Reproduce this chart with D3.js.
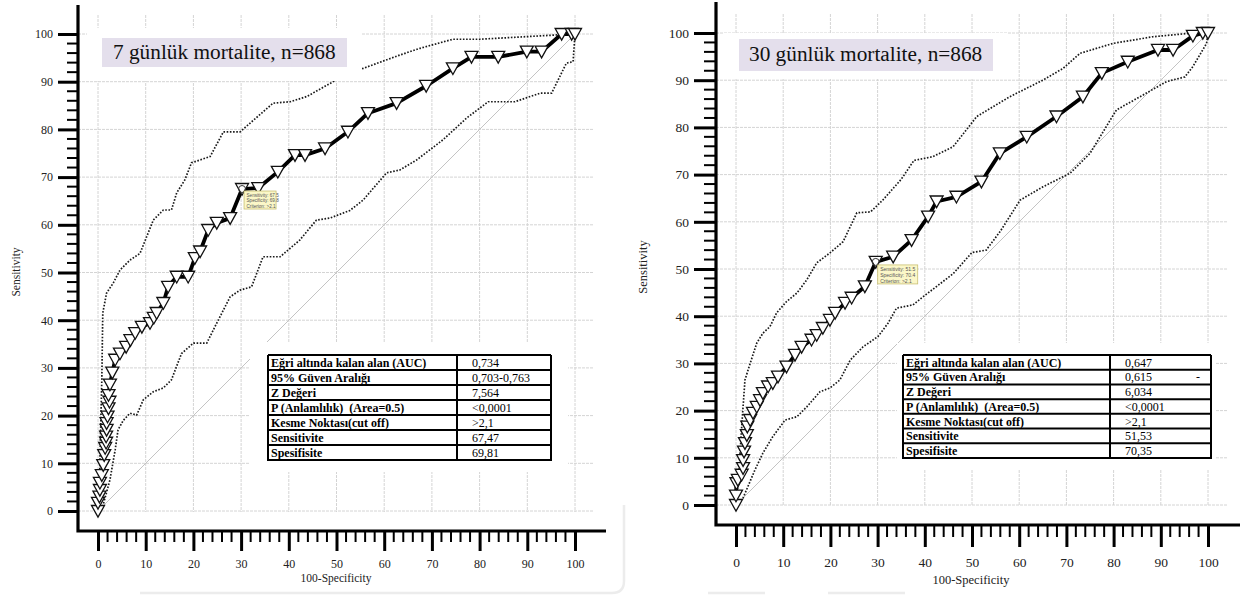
<!DOCTYPE html>
<html>
<head>
<meta charset="utf-8">
<script src="https://cdn.jsdelivr.net/npm/d3@7"></script>
<style>
  body { margin: 0; background: #fff; }
  svg { display: block; font-family: "Liberation Serif", "Times New Roman", serif; }
</style>
</head>
<body>
<svg id="chart" width="1252" height="595"></svg>
<script>
// ---- 7-day mortality ROC: [100-Specificity, Sensitivity] ----
const roc7 = [[0,0],[0,1.7],[0.3,3],[0.4,4.4],[0.4,5.9],[0.8,7.5],[1.1,9.6],[1.3,11.7],[1.5,13.2],[1.7,14.3],
  [1.7,15.6],[1.8,17],[1.8,18.4],[2,19.8],[2.2,21.5],[2.4,22.9],[2.2,24.3],[2.5,26.5],[3,29],[3.6,31.7],
  [4.6,33],[5.9,34.4],[6.8,35.8],[7.8,37.3],[9.2,38.6],[10.9,39.4],[11.7,40.5],[12.3,41.5],[13.7,43.6],
  [14.7,47],[16.5,49.1],[18.9,49.1],[20.3,53],[21.4,54.4],[23.1,58.9],[24.9,60.4],[27.7,61.4],[30.2,67.5],
  [33.6,67.7],[37.7,71.1],[41.3,74.6],[43.4,74.6],[47.6,76],[52.4,79.5],[56.6,83.4],[62.6,85.5],[68.8,89.1],
  [74.4,92.8],[78.3,95.2],[83.9,95.2],[89.9,96.3],[93,96.3],[97.2,100],[99.3,100],[100,100]];
const upper7 = [[0,0],[0.3,5],[0.5,15],[0.8,27.5],[1,41.5],[1.8,45.7],[3.2,47.8],[4.6,50.5],[6.7,52.6],[8.8,54],
  [10.2,57.5],[11.6,61],[13.7,63.1],[15.4,63.1],[16.5,66.7],[18.2,69.4],[19.6,73],[23.5,74.3],[26.3,79.5],
  [29.8,79.5],[36.7,85.5],[40.3,85.8],[43.8,86.9],[50,90.4],[55.6,92.8],[63.3,95.6],[67.5,97],[74.4,98.9],
  [80,98.9],[96.2,99.8],[100,100]];
const lower7 = [[0,0],[1,1],[2.5,6.5],[3.6,12.8],[4.2,17],[5.3,19],[6.7,20.5],[8.1,20.1],[9.5,23.3],[11.6,25],
  [13.7,25.8],[15.4,27.5],[17.5,33],[20,35.2],[22.8,35.2],[24.9,39.4],[27.7,44.9],[29.8,46.3],[32.2,47],
  [34.6,53.3],[38.2,53.3],[42.3,56.8],[45.8,61],[48.6,61.4],[52.8,63],[55.6,65.2],[60.5,70.9],[63.3,71.5],
  [66.8,73.6],[72.3,77.8],[77.3,82.4],[81.8,85.8],[87.4,85.8],[92.7,87.6],[95.1,87.6],[98.2,93.9],[99.6,94.2],[100,100]];
const cut7 = [30.2, 67.5];
const tip7 = ["Sensitivity: 67.5", "Specificity: 69.8", "Criterion: >2.1"];
const values7 = ["0,734", "0,703-0,763", "7,564", "<0,0001", ">2,1", "67,47", "69,81"];

// ---- 30-day mortality ROC ----
const roc30 = [[0,0],[0,2],[0.1,4.6],[0.4,5.3],[1.2,6.4],[1.5,7.8],[1.5,9.5],[1.7,11.3],[1.9,13.1],[2.3,14.8],
  [2.4,16.6],[3,18],[3.6,19.5],[4.4,20.8],[5.1,22.2],[5.7,23.7],[6.8,25.1],[7.8,25.8],[8.9,27.2],[10.7,29.3],
  [12.5,31.8],[13.9,33.5],[16,35],[17.1,36],[18.4,37.5],[19.9,39.2],[21,40.7],[23.1,42.8],[24.5,43.9],
  [27.3,46.3],[29.6,51.5],[33.3,52.6],[37.2,56.1],[40.7,61.1],[42.5,64.3],[46.7,65.3],[52,68.5],[55.9,74.5],
  [61.6,78],[67.9,82.3],[73.5,86.5],[77.5,91.5],[83,93.9],[89.4,96.4],[92.6,96.4],[96.8,99.4],[98.9,100],[100,100]];
const upper30 = [[0,0],[0.3,3],[0.8,10],[1.3,18],[1.9,26.5],[3,30],[4.4,34.3],[5.7,36.4],[7.2,37.8],[8.6,40.7],
  [10.7,43.1],[12.9,44.9],[15,47.7],[17.1,51.3],[19.9,53.4],[22.7,55.8],[25.6,61.9],[28.5,62.1],[31.1,64.6],
  [35,69],[37.7,73],[41.7,73.8],[46,75.9],[51,82.3],[58,86.5],[65,90],[69.3,92.5],[72.9,95.7],[79.9,97.8],
  [88.3,99.2],[96.8,100],[100,100]];
const lower30 = [[0,0],[1.5,1.5],[4,7.4],[5.7,11],[7.8,14.5],[10.4,18],[12.9,18.7],[15,20.8],[17.8,24],[19.9,24.8],
  [22,26.5],[24.2,30.7],[26.9,33.5],[30.1,35.7],[32.2,38.5],[34,41.7],[37.5,42.4],[39.6,44.1],[42.5,46.3],
  [46,49],[50,53.5],[53,54],[56,58],[60.2,64.6],[65,67.4],[70.8,70.3],[75,74.5],[80.6,83.7],[85.6,86.5],
  [91.2,89.7],[95.1,90.7],[96.8,92.9],[99.7,97.8],[100,100]];
const cut30 = [29.6, 51.5];
const tip30 = ["Sensitivity: 51.5", "Specificity: 70.4", "Criterion: >2.1"];
const values30 = ["0,647", "0,615", "6,034", "<0,0001", ">2,1", "51,53", "70,35"];

// ---- shared labels ----
const tableLabels = ["Eğri altında kalan alan (AUC)", "95% Güven Aralığı", "Z Değeri",
  "P (Anlamlılık)  (Area=0.5)", "Kesme Noktası(cut off)", "Sensitivite", "Spesifisite"];
const majorTicks = d3.range(0, 101, 10);
const minorTicks = d3.range(0, 101, 2).filter(v => v % 10 !== 0);

const svg = d3.select("#chart");

// faint page frame edges along the bottom
svg.append("path").attr("d", "M140,593H612Q624,593 624,581V505")
  .attr("fill", "none").attr("stroke", "#ececec").attr("stroke-width", 2.5);
svg.append("path").attr("d", "M708,593H765M828,593H905")
  .attr("fill", "none").attr("stroke", "#ececec").attr("stroke-width", 2.5);

function drawPanel(p) {
  const x = d3.scaleLinear().domain([0, 100]).range([p.x0, p.x100]);
  const y = d3.scaleLinear().domain([0, 100]).range([p.y0, p.y100]);
  const g = svg.append("g");

  // grid
  const grid = g.append("g").attr("stroke", "#d4d4d4").attr("stroke-width", 1).attr("stroke-dasharray", "3,1");
  grid.selectAll(".gv").data(majorTicks).join("line")
    .attr("x1", d => x(d)).attr("x2", d => x(d))
    .attr("y1", p.gridTop).attr("y2", y(0) + 1);
  grid.selectAll(".gh").data(majorTicks).join("line")
    .attr("y1", d => y(d)).attr("y2", d => y(d))
    .attr("x1", p.axisX).attr("x2", p.gridRight);

  // reference diagonal
  g.append("line")
    .attr("x1", x(0)).attr("y1", y(0)).attr("x2", x(100)).attr("y2", y(100))
    .attr("stroke", "#c4c4c4").attr("stroke-width", 1);

  const line = d3.line().x(d => x(d[0])).y(d => y(d[1]));

  // confidence bounds
  [p.upper, p.lower].forEach(band => {
    g.append("path").attr("d", line(band))
      .attr("fill", "none").attr("stroke", "#1a1a1a")
      .attr("stroke-width", 1.7).attr("stroke-dasharray", "1.6,1.6");
  });

  // ROC curve
  g.append("path").attr("d", line(p.roc))
    .attr("fill", "none").attr("stroke", "#000")
    .attr("stroke-width", 3.8).attr("stroke-linejoin", "round");

  // markers (down-pointing triangles)
  const tri = `M${-p.mk},${-p.mk * 0.85}L${p.mk},${-p.mk * 0.85}L0,${p.mk * 0.95}Z`;
  g.append("g").selectAll("path").data(p.roc).join("path")
    .attr("d", tri)
    .attr("transform", d => `translate(${x(d[0])},${y(d[1])})`)
    .attr("fill", "#fff").attr("stroke", "#111").attr("stroke-width", 1.3);

  // optimal cut-off point
  g.append("circle").attr("cx", x(p.cut[0])).attr("cy", y(p.cut[1])).attr("r", 3.5)
    .attr("fill", "none").attr("stroke", "#333").attr("stroke-width", 1);
  const tip = g.append("g").attr("transform", `translate(${x(p.cut[0]) + p.tipDx},${y(p.cut[1]) + p.tipDy})`);
  tip.append("rect").attr("width", p.tipW).attr("height", p.tipH)
    .attr("fill", "#fbf7c8").attr("stroke", "#c9bf73").attr("stroke-width", 0.8);
  tip.selectAll("text").data(p.tip).join("text")
    .attr("x", 2.5).attr("y", (d, i) => p.tipFs + 1 + i * (p.tipFs + 1))
    .attr("font-family", "Liberation Sans, Arial, sans-serif")
    .attr("font-size", p.tipFs).attr("fill", "#555").text(d => d);

  // title box
  g.append("rect").attr("x", p.titleWhite[0]).attr("y", p.titleWhite[1])
    .attr("width", p.titleWhite[2]).attr("height", p.titleWhite[3]).attr("fill", "#fff");
  g.append("rect").attr("x", p.titleBox[0]).attr("y", p.titleBox[1])
    .attr("width", p.titleBox[2]).attr("height", p.titleBox[3]).attr("fill", "#e4dfec");
  g.append("text").attr("x", p.titleBox[0] + p.titlePad).attr("y", p.titleBox[1] + p.titleBase)
    .attr("font-size", p.titleFs).attr("fill", "#111").text(p.title);

  // statistics table
  g.append("rect").attr("x", p.tableWhite[0]).attr("y", p.tableWhite[1])
    .attr("width", p.tableWhite[2]).attr("height", p.tableWhite[3]).attr("fill", "#fff");
  const t = p.table;
  const rowH = (t.bottom - t.top) / tableLabels.length;
  const tg = g.append("g");
  tg.selectAll(".lab").data(tableLabels).join("text")
    .attr("x", t.left + 3).attr("y", (d, i) => t.top + (i + 1) * rowH - 3)
    .attr("font-size", t.fs).attr("font-weight", "bold").attr("fill", "#000")
    .attr("xml:space", "preserve").style("white-space", "pre").text(d => d);
  tg.selectAll(".val").data(p.values).join("text")
    .attr("x", t.mid + 15).attr("y", (d, i) => t.top + (i + 1) * rowH - 3)
    .attr("font-size", t.fs).attr("fill", "#000").text(d => d);
  if (p.dash) {
    tg.append("text").attr("x", p.dash).attr("y", t.top + 2 * rowH - 3)
      .attr("font-size", t.fs).attr("fill", "#000").text("-");
  }
  const borders = tg.append("g").attr("stroke", "#000").attr("stroke-width", 2);
  d3.range(0, tableLabels.length + 1).forEach(i => {
    borders.append("line").attr("x1", t.left).attr("x2", t.right)
      .attr("y1", t.top + i * rowH).attr("y2", t.top + i * rowH);
  });
  [t.left, t.mid, t.right].forEach(xx => {
    borders.append("line").attr("x1", xx).attr("x2", xx).attr("y1", t.top).attr("y2", t.bottom + 1);
  });

  // y axis
  const yAxis = g.append("g").attr("transform", `translate(${p.axisX},0)`);
  yAxis.call(d3.axisLeft(y).tickValues(majorTicks).tickSize(p.major).tickPadding(p.yPad).tickSizeOuter(0));
  yAxis.attr("font-family", "Liberation Serif, serif").attr("font-size", p.tickFs);
  yAxis.select(".domain").remove();
  yAxis.selectAll(".tick line").attr("stroke", "#000").attr("stroke-width", 3);
  yAxis.selectAll(".tick text").attr("fill", "#222");
  yAxis.selectAll(".minor").data(minorTicks).join("line").attr("class", "minor")
    .attr("x1", -p.minor).attr("x2", 0).attr("y1", d => y(d)).attr("y2", d => y(d))
    .attr("stroke", "#000").attr("stroke-width", 2);

  // x axis
  const xAxis = g.append("g").attr("transform", `translate(0,${p.axisY})`);
  xAxis.call(d3.axisBottom(x).tickValues(majorTicks).tickSize(p.major).tickPadding(p.xPad).tickSizeOuter(0));
  xAxis.attr("font-family", "Liberation Serif, serif").attr("font-size", p.tickFs);
  xAxis.select(".domain").remove();
  xAxis.selectAll(".tick line").attr("stroke", "#000").attr("stroke-width", 3);
  xAxis.selectAll(".tick text").attr("fill", "#222");
  xAxis.selectAll(".minor").data(minorTicks).join("line").attr("class", "minor")
    .attr("y1", 0).attr("y2", p.minor).attr("x1", d => x(d)).attr("x2", d => x(d))
    .attr("stroke", "#000").attr("stroke-width", 2);

  // axis lines
  g.append("path")
    .attr("d", `M${p.axisX},${p.axisTop}V${p.axisY}H${p.axisRight}`)
    .attr("fill", "none").attr("stroke", "#000").attr("stroke-width", 3.2);

  // axis titles
  g.append("text").attr("transform", `translate(${p.yTitle[0]},${p.yTitle[1]}) rotate(-90)`)
    .attr("text-anchor", "middle").attr("font-size", p.axisFs).attr("fill", "#222").text("Sensitivity");
  g.append("text").attr("x", p.xTitle[0]).attr("y", p.xTitle[1])
    .attr("text-anchor", "middle").attr("font-size", p.axisFs).attr("fill", "#222").text("100-Specificity");
}

drawPanel({
  x0: 98, x100: 575, y0: 511, y100: 34,
  axisX: 78, axisY: 531, axisTop: 5, axisRight: 606, gridTop: 15, gridRight: 593,
  major: 20, minor: 11, yPad: 5, xPad: 8, tickFs: 12, axisFs: 11.5,
  yTitle: [20, 272], xTitle: [336, 582],
  roc: roc7, upper: upper7, lower: lower7, cut: cut7, mk: 6.5,
  tip: tip7, tipDx: 2, tipDy: 2, tipW: 32, tipH: 18, tipFs: 4.6,
  title: "7 günlük mortalite, n=868", titleFs: 21.3, titlePad: 11, titleBase: 21,
  titleWhite: [87, 28, 275, 53], titleBox: [102, 38, 245, 29],
  tableWhite: [250, 342, 318, 130],
  table: { left: 268, mid: 457, right: 551, top: 355, bottom: 460, fs: 12 },
  values: values7
});

drawPanel({
  x0: 736, x100: 1208, y0: 505, y100: 33,
  axisX: 716, axisY: 525, axisTop: 2, axisRight: 1240, gridTop: 14, gridRight: 1228,
  major: 22, minor: 12, yPad: 5, xPad: 10, tickFs: 13.5, axisFs: 12.5,
  yTitle: [647, 267], xTitle: [971, 584],
  roc: roc30, upper: upper30, lower: lower30, cut: cut30, mk: 6.5,
  tip: tip30, tipDx: 2, tipDy: 3, tipW: 40, tipH: 19, tipFs: 5,
  title: "30 günlük mortalite, n=868", titleFs: 21.3, titlePad: 10, titleBase: 22,
  titleWhite: [724, 33, 284, 46], titleBox: [739, 39, 254, 32],
  tableWhite: [897, 343, 318, 127],
  table: { left: 903, mid: 1110, right: 1211, top: 355, bottom: 458, fs: 12 },
  values: values30, dash: 1196
});
</script>
</body>
</html>
